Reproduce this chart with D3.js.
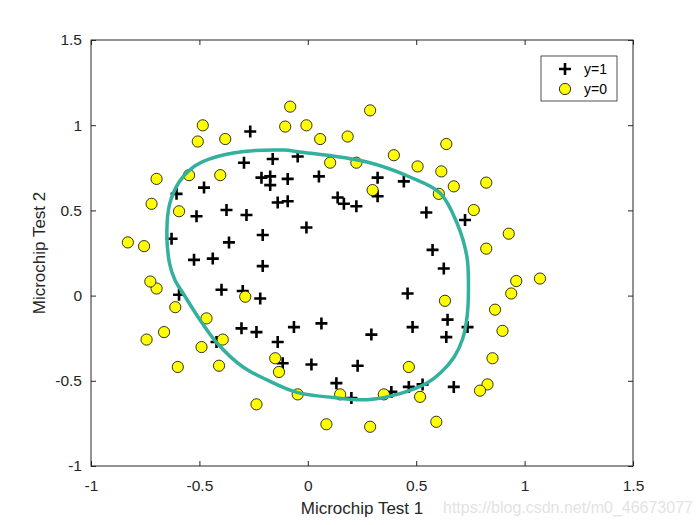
<!DOCTYPE html>
<html><head><meta charset="utf-8">
<script src="https://cdn.jsdelivr.net/npm/d3@7"></script>
<style>body{margin:0;background:#fff}svg{display:block}text{font-family:"Liberation Sans",Arial,sans-serif}</style>
</head><body><svg id="c" width="700" height="525"></svg>
<script>
// Test 1 scores
const test1 = [0.051267,-0.092742,-0.21371,-0.375,-0.51325,-0.52477,-0.39804,-0.30588,0.016705,0.13191,0.38537,0.52938,0.63882,0.73675,0.54666,0.322,0.16647,-0.046659,-0.17339,-0.47869,-0.60541,-0.62846,-0.59389,-0.42108,-0.11578,0.20104,0.46601,0.67339,-0.13882,-0.29435,-0.26555,-0.16187,-0.17339,-0.28283,-0.36348,-0.30012,-0.23675,-0.06394,0.062788,0.22984,0.2932,0.48329,0.64459,0.46025,0.6273,0.57546,0.72523,0.22408,0.44297,0.322,0.13767,-0.0063364,-0.092742,-0.20795,-0.20795,-0.43836,-0.21947,-0.13882,
0.18376,0.22408,0.29896,0.50634,0.61578,0.60426,0.76555,0.92684,0.82316,0.96141,0.93836,0.86348,0.89804,0.85196,0.82892,0.79435,0.59274,0.51786,0.46601,0.35081,0.28744,0.085829,0.14919,-0.13306,-0.40956,-0.39228,-0.74366,-0.69758,-0.75518,-0.69758,-0.4038,-0.38076,-0.50749,-0.54781,0.10311,0.057028,-0.10426,-0.081221,0.28744,0.39689,0.63882,0.82316,0.67339,1.0709,-0.046659,-0.23675,-0.15035,-0.49021,-0.46717,-0.28859,-0.61118,-0.66302,-0.59965,-0.72638,-0.83007,-0.72062,-0.59389,-0.48445,-0.0063364,0.63265];
// Test 2 scores
const test2 = [0.69956,0.68494,0.69225,0.50219,0.46564,0.2098,0.034357,-0.19225,-0.40424,-0.51389,-0.56506,-0.5212,-0.24342,-0.18494,0.48757,0.5826,0.53874,0.81652,0.69956,0.63377,0.59722,0.33406,0.005117,-0.27266,-0.39693,-0.60161,-0.53582,-0.53582,0.54605,0.77997,0.96272,0.8019,0.64839,0.47295,0.31213,0.027047,-0.21418,-0.18494,-0.16301,-0.41155,-0.2288,-0.18494,-0.14108,0.012427,0.15863,0.26827,0.44371,0.52412,0.67032,0.69225,0.57529,0.39985,0.55336,0.35599,0.17325,0.21711,-0.016813,-0.27266,
0.93348,0.77997,0.61915,0.75804,0.7288,0.59722,0.50219,0.3633,0.27558,0.085526,0.012427,-0.082602,-0.20687,-0.36769,-0.5212,-0.55775,-0.7405,-0.5943,-0.41886,-0.57968,-0.76974,-0.75512,-0.57968,-0.4481,-0.41155,-0.25804,-0.25804,0.041667,0.2902,0.68494,0.70687,0.91886,0.90424,0.70687,0.77997,0.91886,0.99196,1.1089,1.087,0.82383,0.88962,0.66301,0.64108,0.10015,-0.57968,-0.63816,-0.36769,-0.3019,-0.13377,-0.0065059,-0.067957,-0.21418,-0.41886,0.082602,0.31213,0.53874,0.49488,0.99927,0.99927,-0.030612];
// labels: 58 accepted then 60 rejected
const labels = Array(58).fill(1).concat(Array(60).fill(0));
// decision boundary
const boundaryX = [-0.036,0.273,0.471,0.610,0.688,0.734,0.741,0.735,0.714,0.675,0.615,0.550,0.425,0.273,0.116,-0.050,-0.188,-0.299,-0.419,-0.497,-0.576,-0.613,-0.638,-0.650,-0.636,-0.592,-0.540,-0.487,-0.345,-0.114];
const boundaryY = [0.843,0.784,0.696,0.602,0.426,0.227,0.060,-0.120,-0.255,-0.360,-0.450,-0.513,-0.575,-0.611,-0.598,-0.568,-0.495,-0.419,-0.278,-0.143,0.015,0.092,0.191,0.385,0.543,0.670,0.742,0.785,0.837,0.854];
const xTicks = [-1,-0.5,0,0.5,1,1.5];
const yTicks = [-1,-0.5,0,0.5,1,1.5];
const legendLabels = ["y=1","y=0"];

const svg = d3.select("#c");
const L=91,R=633,T=40,B=466;
const x = d3.scaleLinear().domain([-1,1.5]).range([L,R]);
const y = d3.scaleLinear().domain([-1,1.5]).range([B,T]);
const fmt = d => String(d);

// axes
svg.append("g").attr("transform",`translate(0,${B})`)
  .call(d3.axisBottom(x).tickValues(xTicks).tickFormat(fmt).tickSizeInner(-5).tickSizeOuter(0).tickPadding(14));
svg.append("g").attr("transform",`translate(${L},0)`)
  .call(d3.axisLeft(y).tickValues(yTicks).tickFormat(fmt).tickSizeInner(-5).tickSizeOuter(0).tickPadding(9));
svg.append("g").attr("transform",`translate(0,${T})`)
  .call(d3.axisTop(x).tickValues(xTicks).tickFormat("").tickSizeInner(-5).tickSizeOuter(0));
svg.append("g").attr("transform",`translate(${R},0)`)
  .call(d3.axisRight(y).tickValues(yTicks).tickFormat("").tickSizeInner(-5).tickSizeOuter(0));
svg.selectAll(".domain").remove();
svg.selectAll(".tick line").attr("stroke","#262626");
svg.selectAll(".tick text").attr("font-size",15.5).attr("fill","#262626").attr("font-family","Liberation Sans, Arial, sans-serif");
svg.append("rect").attr("x",L).attr("y",T).attr("width",R-L).attr("height",B-T)
  .attr("fill","none").attr("stroke","#262626").attr("stroke-width",1);

// axis labels
svg.append("text").attr("x",(L+R)/2).attr("y",514).attr("text-anchor","middle")
  .attr("font-size",17).attr("fill","#262626").text("Microchip Test 1");
svg.append("text").attr("transform",`translate(45,${(T+B)/2}) rotate(-90)`).attr("text-anchor","middle")
  .attr("font-size",17).attr("fill","#262626").text("Microchip Test 2");

const pts = test1.map((v,i)=>({x:v,y:test2[i],c:labels[i]}));
const cross = (g,cx,cy)=>{
  const s=6;
  g.append("path").attr("d",`M${cx-s},${cy}H${cx+s}M${cx},${cy-s}V${cy+s}`)
   .attr("stroke","#000").attr("stroke-width",2.6).attr("fill","none");
};
const gp = svg.append("g");
pts.filter(p=>p.c===1).forEach(p=>cross(gp,x(p.x),y(p.y)));
svg.append("g").selectAll("circle").data(pts.filter(p=>p.c===0)).join("circle")
  .attr("cx",d=>x(d.x)).attr("cy",d=>y(d.y)).attr("r",5.6)
  .attr("fill","#ffff00").attr("stroke","#000").attr("stroke-width",0.8);

// boundary
const bpts = boundaryX.map((v,i)=>[x(v),y(boundaryY[i])]);
svg.append("path").attr("d",d3.line().curve(d3.curveCatmullRomClosed.alpha(0.5))(bpts))
  .attr("fill","none").attr("stroke","#33b09e").attr("stroke-width",3.5);

// legend
const lg = svg.append("g");
lg.append("rect").attr("x",541).attr("y",56).attr("width",76).attr("height",45)
  .attr("fill","#fff").attr("stroke","#262626").attr("stroke-width",0.8);
cross(lg,565,69);
lg.append("circle").attr("cx",565).attr("cy",89).attr("r",5.6).attr("fill","#ffff00").attr("stroke","#000").attr("stroke-width",0.8);
lg.selectAll("text").data(legendLabels).join("text")
  .attr("x",584).attr("y",(d,i)=>69+i*20+5).attr("font-size",14).attr("fill","#000").text(d=>d);

// watermark
svg.append("text").attr("x",443).attr("y",513).attr("font-size",16).attr("fill","#e3e3e3")
  .text("https://blog.csdn.net/m0_46673077");
</script></body></html>
